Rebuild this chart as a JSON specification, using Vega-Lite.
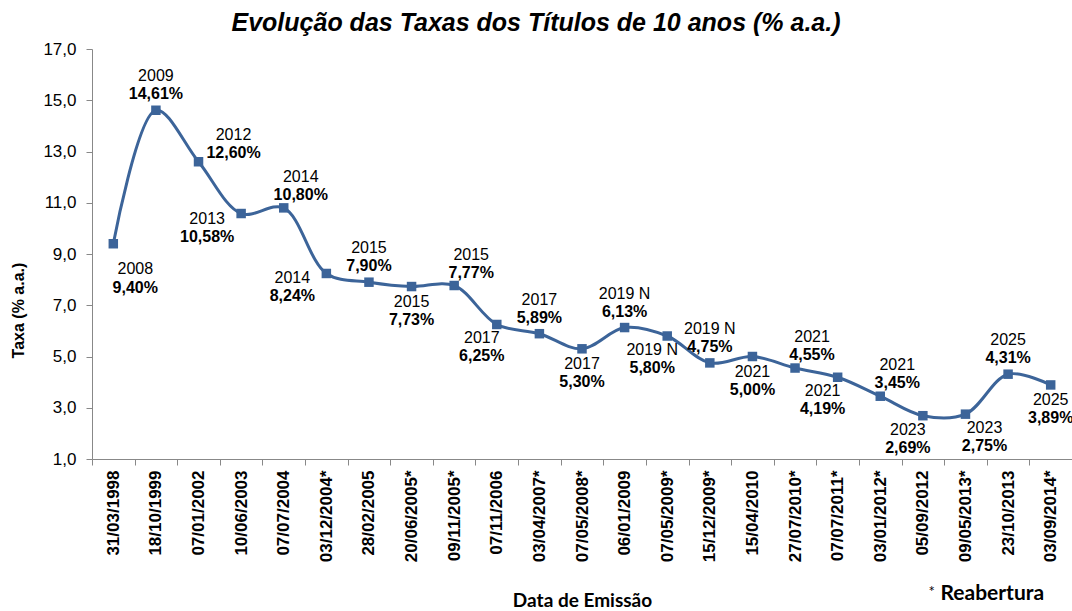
{
  "$schema": "https://vega.github.io/schema/vega-lite/v6.json",
  "width": 980,
  "height": 410,
  "autosize": {"type": "none"},
  "padding": {"left": 92, "top": 49, "right": 0, "bottom": 152},
  "background": "white",
  "title": {
    "text": "Evolução das Taxas dos Títulos de 10 anos (% a.a.)",
    "font": "Liberation Sans",
    "fontSize": 25,
    "fontWeight": "bold",
    "fontStyle": "italic",
    "color": "#000000",
    "anchor": "middle",
    "dx": -46,
    "offset": 4
  },
  "config": {"view": {"stroke": null}},
  "data": {
    "values": [
      {"date": "31/03/1998", "taxa": 9.40, "year": "2008", "label": "9,40%", "pos": "lowRight"},
      {"date": "18/10/1999", "taxa": 14.61, "year": "2009", "label": "14,61%", "pos": "above"},
      {"date": "07/01/2002", "taxa": 12.60, "year": "2012", "label": "12,60%", "pos": "right"},
      {"date": "10/06/2003", "taxa": 10.58, "year": "2013", "label": "10,58%", "pos": "left"},
      {"date": "07/07/2004", "taxa": 10.80, "year": "2014", "label": "10,80%", "pos": "aboveRight"},
      {"date": "03/12/2004*", "taxa": 8.24, "year": "2014", "label": "8,24%", "pos": "left"},
      {"date": "28/02/2005", "taxa": 7.90, "year": "2015", "label": "7,90%", "pos": "above"},
      {"date": "20/06/2005*", "taxa": 7.73, "year": "2015", "label": "7,73%", "pos": "below"},
      {"date": "09/11/2005*", "taxa": 7.77, "year": "2015", "label": "7,77%", "pos": "aboveRight"},
      {"date": "07/11/2006", "taxa": 6.25, "year": "2017", "label": "6,25%", "pos": "belowLeft"},
      {"date": "03/04/2007*", "taxa": 5.89, "year": "2017", "label": "5,89%", "pos": "above"},
      {"date": "07/05/2008*", "taxa": 5.30, "year": "2017", "label": "5,30%", "pos": "below"},
      {"date": "06/01/2009", "taxa": 6.13, "year": "2019 N", "label": "6,13%", "pos": "above"},
      {"date": "07/05/2009*", "taxa": 5.80, "year": "2019 N", "label": "5,80%", "pos": "belowLeft"},
      {"date": "15/12/2009*", "taxa": 4.75, "year": "2019 N", "label": "4,75%", "pos": "above"},
      {"date": "15/04/2010", "taxa": 5.00, "year": "2021", "label": "5,00%", "pos": "below"},
      {"date": "27/07/2010*", "taxa": 4.55, "year": "2021", "label": "4,55%", "pos": "aboveRight"},
      {"date": "07/07/2011*", "taxa": 4.19, "year": "2021", "label": "4,19%", "pos": "belowLeft"},
      {"date": "03/01/2012*", "taxa": 3.45, "year": "2021", "label": "3,45%", "pos": "aboveRight"},
      {"date": "05/09/2012", "taxa": 2.69, "year": "2023", "label": "2,69%", "pos": "belowLeft"},
      {"date": "09/05/2013*", "taxa": 2.75, "year": "2023", "label": "2,75%", "pos": "belowRight"},
      {"date": "23/10/2013", "taxa": 4.31, "year": "2025", "label": "4,31%", "pos": "above"},
      {"date": "03/09/2014*", "taxa": 3.89, "year": "2025", "label": "3,89%", "pos": "below"}
    ]
  },
  "encoding": {
    "x": {
      "field": "date",
      "type": "nominal",
      "sort": null,
      "scale": {"paddingInner": 0, "paddingOuter": 0},
      "axis": {
        "title": "Data de Emissão",
        "titleFont": "Lato",
        "titleFontSize": 19,
        "titleFontWeight": "bold",
        "titleColor": "#000000",
        "titleY": 141,
        "titleBaseline": "middle",
        "labelAngle": -90,
        "labelFont": "Liberation Sans",
        "labelFontSize": 17,
        "labelFontWeight": "bold",
        "labelColor": "#000000",
        "labelPadding": 5,
        "tickBand": "extent",
        "tickColor": "#888888",
        "tickSize": 6,
        "domainColor": "#888888",
        "grid": false
      }
    },
    "y": {
      "field": "taxa",
      "type": "quantitative",
      "scale": {"domain": [1, 17], "nice": false, "zero": false},
      "axis": {
        "title": "Taxa (% a.a.)",
        "titleFont": "Liberation Sans",
        "titleFontSize": 16,
        "titleFontWeight": "bold",
        "titleColor": "#000000",
        "titleX": -74,
        "titleY": 261,
        "titleAngle": -90,
        "titleAlign": "center",
        "titleBaseline": "middle",
        "values": [1, 3, 5, 7, 9, 11, 13, 15, 17],
        "labelExpr": "replace(format(datum.value, '.1f'), '.', ',')",
        "labelFont": "Liberation Sans",
        "labelFontSize": 17,
        "labelColor": "#000000",
        "labelPadding": 10,
        "tickColor": "#888888",
        "tickSize": 6,
        "domainColor": "#888888",
        "grid": false
      }
    }
  },
  "layer": [
    {"mark": {"type": "line", "interpolate": "catmull-rom", "color": "#3C6499", "strokeWidth": 3}},
    {"mark": {"type": "point", "shape": "square", "filled": true, "size": 90, "color": "#3C6499", "opacity": 1}},
    {"transform": [{"filter": "datum.pos === 'above'"}], "mark": {"type": "text", "font": "Liberation Sans", "fontSize": 16, "color": "#000000", "dx": 0, "dy": -34}, "encoding": {"text": {"field": "year"}}},
    {"transform": [{"filter": "datum.pos === 'above'"}], "mark": {"type": "text", "font": "Liberation Sans", "fontSize": 16, "fontWeight": "bold", "color": "#000000", "dx": 0, "dy": -16}, "encoding": {"text": {"field": "label"}}},
    {"transform": [{"filter": "datum.pos === 'aboveRight'"}], "mark": {"type": "text", "font": "Liberation Sans", "fontSize": 16, "color": "#000000", "dx": 17, "dy": -31}, "encoding": {"text": {"field": "year"}}},
    {"transform": [{"filter": "datum.pos === 'aboveRight'"}], "mark": {"type": "text", "font": "Liberation Sans", "fontSize": 16, "fontWeight": "bold", "color": "#000000", "dx": 17, "dy": -13}, "encoding": {"text": {"field": "label"}}},
    {"transform": [{"filter": "datum.pos === 'right'"}], "mark": {"type": "text", "font": "Liberation Sans", "fontSize": 16, "color": "#000000", "dx": 35, "dy": -27}, "encoding": {"text": {"field": "year"}}},
    {"transform": [{"filter": "datum.pos === 'right'"}], "mark": {"type": "text", "font": "Liberation Sans", "fontSize": 16, "fontWeight": "bold", "color": "#000000", "dx": 35, "dy": -9}, "encoding": {"text": {"field": "label"}}},
    {"transform": [{"filter": "datum.pos === 'left'"}], "mark": {"type": "text", "font": "Liberation Sans", "fontSize": 16, "color": "#000000", "dx": -34, "dy": 5}, "encoding": {"text": {"field": "year"}}},
    {"transform": [{"filter": "datum.pos === 'left'"}], "mark": {"type": "text", "font": "Liberation Sans", "fontSize": 16, "fontWeight": "bold", "color": "#000000", "dx": -34, "dy": 23}, "encoding": {"text": {"field": "label"}}},
    {"transform": [{"filter": "datum.pos === 'belowLeft'"}], "mark": {"type": "text", "font": "Liberation Sans", "fontSize": 16, "color": "#000000", "dx": -15, "dy": 14}, "encoding": {"text": {"field": "year"}}},
    {"transform": [{"filter": "datum.pos === 'belowLeft'"}], "mark": {"type": "text", "font": "Liberation Sans", "fontSize": 16, "fontWeight": "bold", "color": "#000000", "dx": -15, "dy": 32}, "encoding": {"text": {"field": "label"}}},
    {"transform": [{"filter": "datum.pos === 'below'"}], "mark": {"type": "text", "font": "Liberation Sans", "fontSize": 16, "color": "#000000", "dx": 0, "dy": 15}, "encoding": {"text": {"field": "year"}}},
    {"transform": [{"filter": "datum.pos === 'below'"}], "mark": {"type": "text", "font": "Liberation Sans", "fontSize": 16, "fontWeight": "bold", "color": "#000000", "dx": 0, "dy": 33}, "encoding": {"text": {"field": "label"}}},
    {"transform": [{"filter": "datum.pos === 'belowRight'"}], "mark": {"type": "text", "font": "Liberation Sans", "fontSize": 16, "color": "#000000", "dx": 19, "dy": 14}, "encoding": {"text": {"field": "year"}}},
    {"transform": [{"filter": "datum.pos === 'belowRight'"}], "mark": {"type": "text", "font": "Liberation Sans", "fontSize": 16, "fontWeight": "bold", "color": "#000000", "dx": 19, "dy": 32}, "encoding": {"text": {"field": "label"}}},
    {"transform": [{"filter": "datum.pos === 'lowRight'"}], "mark": {"type": "text", "font": "Liberation Sans", "fontSize": 16, "color": "#000000", "dx": 22, "dy": 25}, "encoding": {"text": {"field": "year"}}},
    {"transform": [{"filter": "datum.pos === 'lowRight'"}], "mark": {"type": "text", "font": "Liberation Sans", "fontSize": 16, "fontWeight": "bold", "color": "#000000", "dx": 22, "dy": 44}, "encoding": {"text": {"field": "label"}}},
    {
      "transform": [{"filter": "datum.date === '09/05/2013*'"}],
      "mark": {"type": "text", "font": "Lato", "fontSize": 21, "fontWeight": "bold", "color": "#000000", "align": "left", "baseline": "middle", "dx": -25, "dy": 135},
      "encoding": {
        "y": {"datum": 1, "type": "quantitative"},
        "text": {"value": "Reabertura"}
      }
    },
    {
      "transform": [{"filter": "datum.date === '09/05/2013*'"}],
      "mark": {"type": "text", "font": "Lato", "fontSize": 15, "color": "#000000", "align": "left", "baseline": "middle", "dx": -37, "dy": 133},
      "encoding": {
        "y": {"datum": 1, "type": "quantitative"},
        "text": {"value": "*"}
      }
    }
  ]
}
